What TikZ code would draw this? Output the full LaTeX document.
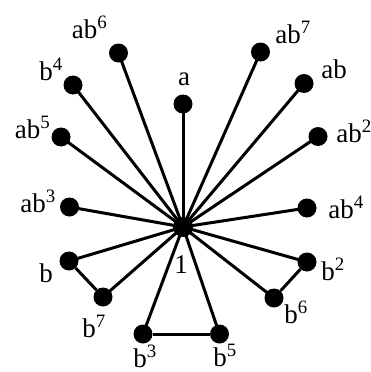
\documentclass[tikz,border=0pt]{standalone}
\usepackage{fontspec}
\setmainfont{Liberation Serif}

\begin{document}
\begin{tikzpicture}[
  x=1pt,y=-1pt,
  dot/.style={circle,fill=black,inner sep=0pt,minimum size=19pt},
  hub/.style={dot,minimum size=20pt},
  elt/.style={anchor=base,inner sep=0pt,font=\fontsize{27}{30}\selectfont},
  spoke/.style={line width=3pt}
]
  \useasboundingbox (0,0) rectangle (370,372);
  % group elements
  \node[hub] (one) at (183,227) {};
  \node[dot] (a) at (183,104) {};
  \node[dot] (ab6) at (118.5,53) {};
  \node[dot] (b4) at (73,85) {};
  \node[dot] (ab5) at (61,137) {};
  \node[dot] (ab7) at (260.5,52) {};
  \node[dot] (ab) at (304,83.5) {};
  \node[dot] (ab2) at (318,136.5) {};
  \node[dot] (ab3) at (69.5,207) {};
  \node[dot] (ab4) at (307,208) {};
  \node[dot] (b) at (69,261) {};
  \node[dot] (b7) at (103,297) {};
  \node[dot] (b3) at (143,334) {};
  \node[dot] (b5) at (219.5,334) {};
  \node[dot] (b6) at (274,298) {};
  \node[dot] (b2) at (307,262) {};
  % names
  \node[elt] (lone) at (181,273) {1};
  \node[elt] (la) at (184,85) {a};
  \node[elt] (lab6) at (89.5,38) {ab\textsuperscript{6}};
  \node[elt] (lb4) at (51,80) {b\textsuperscript{4}};
  \node[elt] (lab5) at (32.5,138) {ab\textsuperscript{5}};
  \node[elt] (lab7) at (293,43) {ab\textsuperscript{7}};
  \node[elt] (lab) at (334,78) {ab};
  \node[elt] (lab2) at (354,142) {ab\textsuperscript{2}};
  \node[elt] (lab3) at (38,212) {ab\textsuperscript{3}};
  \node[elt] (lab4) at (346,218) {ab\textsuperscript{4}};
  \node[elt] (lb) at (46,282) {b};
  \node[elt] (lb7) at (94,337) {b\textsuperscript{7}};
  \node[elt] (lb3) at (145,367) {b\textsuperscript{3}};
  \node[elt] (lb5) at (225,366) {b\textsuperscript{5}};
  \node[elt] (lb6) at (296,323) {b\textsuperscript{6}};
  \node[elt] (lb2) at (333,280) {b\textsuperscript{2}};
  % edges
  \foreach \n in {a,ab,ab2,ab3,ab4,ab5,ab6,ab7,b,b2,b3,b4,b5,b6,b7}
    \draw[spoke] (one.center) -- (\n.center);
  \draw[spoke] (b) -- (b7);
  \draw[spoke] (b3) -- (b5);
  \draw[spoke] (b2) -- (b6);
\end{tikzpicture}
\end{document}
